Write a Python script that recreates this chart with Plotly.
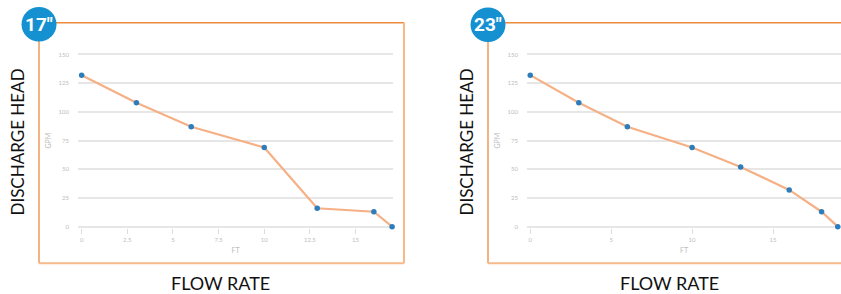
import plotly.graph_objects as go

# ---------------- data ----------------
flow_17 = [0, 3, 6, 10, 12.9, 16, 17]
head_17 = [132, 108, 87, 69, 16, 13, 0]
flow_23 = [0, 3, 6, 10, 13, 16, 18, 19]
head_23 = [132, 108, 87, 69, 52, 32, 13, 0]
y_ticks = [0, 25, 50, 75, 100, 125, 150]
x_ticks_17 = [0, 2.5, 5, 7.5, 10, 12.5, 15]
x_ticks_23 = [0, 5, 10, 15]
badges = ['17"', '23"']

W, H = 841, 294
def px(x):
    return x / W
def py(y):
    return 1 - y / H

LINE_C = "#F5B085"
MARK_C = "#2D7DBD"
GRID_C = "#E6E6E6"
TICK_C = "#BDBDBD"

fig = go.Figure()
for i, (fx, hy) in enumerate([(flow_17, head_17), (flow_23, head_23)]):
    ax = "" if i == 0 else "2"
    fig.add_trace(go.Scatter(
        x=fx, y=hy, mode="lines+markers",
        line=dict(color=LINE_C, width=2.2),
        marker=dict(color=MARK_C, size=5.5, symbol="circle"),
        xaxis="x" + ax, yaxis="y" + ax, cliponaxis=False, showlegend=False,
    ))

ydom = [py(228.7), py(51.3)]
common_y = dict(range=[-1.5, 151.5], tickvals=y_ticks, ticktext=[str(v) for v in y_ticks],
                showgrid=True, gridcolor=GRID_C, gridwidth=1.5, zeroline=False, showline=False,
                tickfont=dict(size=6, color=TICK_C, family="Lato"), ticklabelstandoff=8,
                title=dict(text="GPM", font=dict(size=7, color=TICK_C, family="Lato"), standoff=6),
                domain=ydom)
common_x = dict(showgrid=False, zeroline=False, showline=False, ticks="outside", ticklen=5,
                tickcolor="#DDDDDD", tickwidth=1,
                tickfont=dict(size=6, color=TICK_C, family="Lato"),
                title=dict(text="FT", font=dict(size=7, color=TICK_C, family="Lato"), standoff=6))

fig.update_layout(
    width=W, height=H, margin=dict(l=0, r=0, t=0, b=0),
    paper_bgcolor="white", plot_bgcolor="white",
    xaxis=dict(common_x, range=[-0.2, 17.05], tickvals=x_ticks_17,
               ticktext=[f"{v:g}" for v in x_ticks_17], domain=[px(78), px(393)], anchor="y"),
    yaxis=dict(common_y, anchor="x"),
    xaxis2=dict(common_x, range=[-0.2, 19.2], tickvals=x_ticks_23,
                ticktext=[f"{v:g}" for v in x_ticks_23], domain=[px(527), 1.0], anchor="y2"),
    yaxis2=dict(common_y, anchor="x2"),
)

shapes = []
# frames
for (lx, rx) in [(39, 404), (488, 845)]:
    shapes.append(dict(type="line", xref="paper", yref="paper", x0=px(lx), x1=px(rx), y0=py(21), y1=py(21),
                       line=dict(color="#EE8A3C", width=1.5)))
    shapes.append(dict(type="line", xref="paper", yref="paper", x0=px(lx), x1=px(lx), y0=py(21), y1=py(264),
                       line=dict(color="#F09A58", width=1.5)))
    shapes.append(dict(type="line", xref="paper", yref="paper", x0=px(lx), x1=px(rx), y0=py(264), y1=py(264),
                       line=dict(color="#F7B88A", width=2)))
shapes.append(dict(type="line", xref="paper", yref="paper", x0=px(404), x1=px(404), y0=py(21), y1=py(264),
                   line=dict(color="#F7B88A", width=2)))
# badges
for cx, cy in [(39, 22.5), (488, 23)]:
    r = 17.5
    shapes.append(dict(type="circle", xref="paper", yref="paper", x0=px(cx - r), x1=px(cx + r),
                       y0=py(cy + r), y1=py(cy - r), fillcolor="#1590D0", line=dict(width=0)))
fig.update_layout(shapes=shapes)

ann = []
for (cx, cy), txt in zip([(39, 22.5), (488, 23)], badges):
    ann.append(dict(x=px(cx), y=py(cy), xref="paper", yref="paper", text="<b>" + txt + "</b>", showarrow=False,
                    font=dict(size=19, color="white", family="Liberation Sans Narrow, Roboto, sans-serif"),
                    xanchor="center", yanchor="middle"))
for x in [18, 467]:
    ann.append(dict(x=px(x), y=py(142), xref="paper", yref="paper", text="DISCHARGE HEAD", showarrow=False,
                    textangle=-90, font=dict(size=17, color="#111111", family="Lato"),
                    xanchor="center", yanchor="middle"))
for x in [220, 669]:
    ann.append(dict(x=px(x), y=py(284), xref="paper", yref="paper", text="FLOW RATE", showarrow=False,
                    font=dict(size=18, color="#111111", family="Lato"),
                    xanchor="center", yanchor="middle"))
fig.update_layout(annotations=ann)

fig.write_html("out.html", config={"displayModeBar": False},
               post_script="document.body.style.margin='0';document.body.style.overflow='hidden';")
